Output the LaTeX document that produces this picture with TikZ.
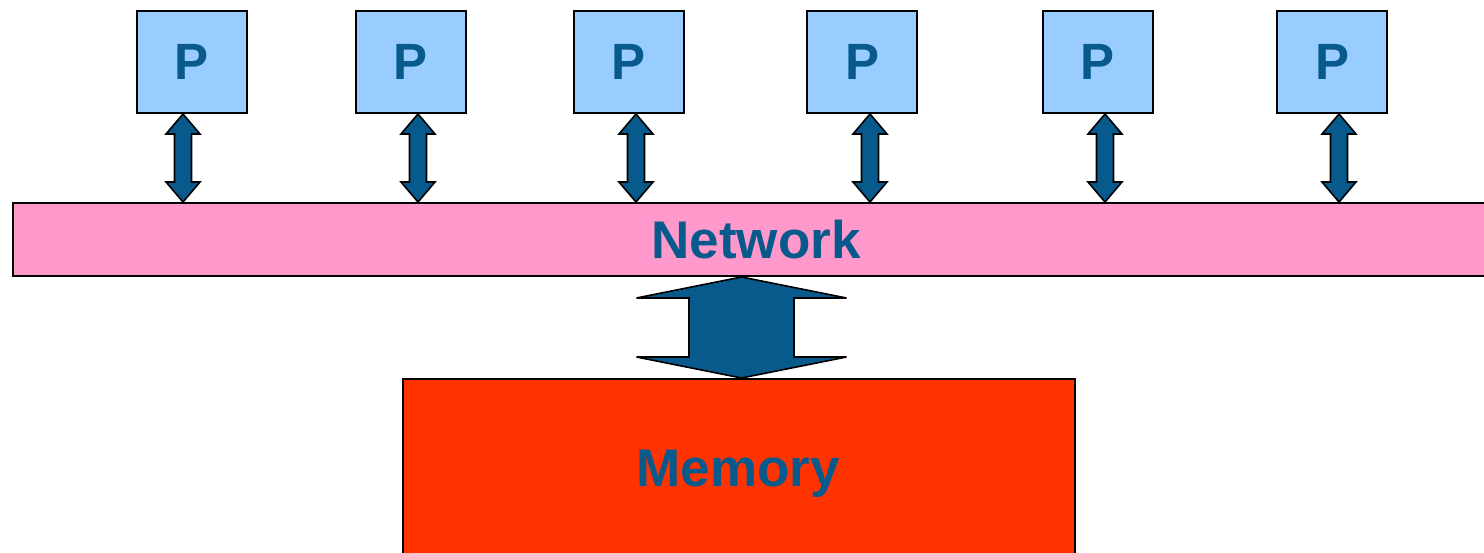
\documentclass[tikz,border=0pt]{standalone}
\usepackage{fontspec}
\setmainfont{Liberation Sans}
\usetikzlibrary{calc}

\definecolor{procblue}{RGB}{153,204,255}
\definecolor{netpink}{RGB}{255,153,204}
\definecolor{memred}{RGB}{255,51,0}
\definecolor{inkblue}{RGB}{8,90,140}

\tikzset{
  proc/.style={draw=black, line width=2pt, fill=procblue, minimum width=110pt,
    minimum height=102pt, inner sep=0pt, font=\fontsize{51}{60}\selectfont\bfseries,
    text=inkblue},
  bar/.style={draw=black, line width=2pt, inner sep=0pt},
  barlabel/.style={inner sep=0pt, anchor=base, font=\fontsize{53}{62}\selectfont\bfseries,
    text=inkblue},
  twoarrow/.style={draw=black, line width=1.6pt, fill=inkblue, line join=miter},
}

% double-headed block arrow from #1 (upper tip) to #2 (lower tip):
% #3 head half width, #4 shaft half width, #5 head length
\newcommand{\blockarrow}[5]{%
  \draw[twoarrow] let \p1=(#1), \p2=(#2) in
    (\x1,\y1) -- (\x1+#3pt,\y1-#5pt) -- (\x1+#4pt,\y1-#5pt)
    -- (\x1+#4pt,\y2+#5pt) -- (\x1+#3pt,\y2+#5pt) -- (\x2,\y2)
    -- (\x1-#3pt,\y2+#5pt) -- (\x1-#4pt,\y2+#5pt)
    -- (\x1-#4pt,\y1-#5pt) -- (\x1-#3pt,\y1-#5pt) -- cycle;}

\begin{document}
\begin{tikzpicture}[x=1pt, y=-1pt]
  \useasboundingbox (0,0) rectangle (1484,552);

  % processors
  \node[proc] (p1) at (191.5,62) {P};
  \node[proc] (p2) at (411,62) {P};
  \node[proc] (p3) at (629,62) {P};
  \node[proc] (p4) at (862,62) {P};
  \node[proc] (p5) at (1097.5,62) {P};
  \node[proc] (p6) at (1332,62) {P};

  % interconnect and memory
  \node[bar, fill=netpink, minimum width=1490pt, minimum height=73pt, anchor=north west]
    (net) at (12,202) {};
  \node[barlabel] (netlabel) at (756,258) {Network};
  \node[bar, fill=memred, minimum width=672pt, minimum height=200pt, anchor=north west]
    (mem) at (402,378) {};
  \node[barlabel] (memlabel) at (738,486) {Memory};

  % arrow end points on the boxes
  \foreach \i/\x in {1/183,2/418,3/636,4/870,5/1105,6/1339}{
    \coordinate (t\i) at (p\i.south -| \x,0);
    \coordinate (b\i) at (net.north -| \x,0);
  }
  \coordinate (mt) at (net.south -| 741.5,0);
  \coordinate (mb) at (mem.north -| 741.5,0);

  \foreach \i in {1,...,6}{ \blockarrow{t\i}{b\i}{17}{8.5}{20} }
  \blockarrow{mt}{mb}{105}{52.5}{21}
\end{tikzpicture}
\end{document}
